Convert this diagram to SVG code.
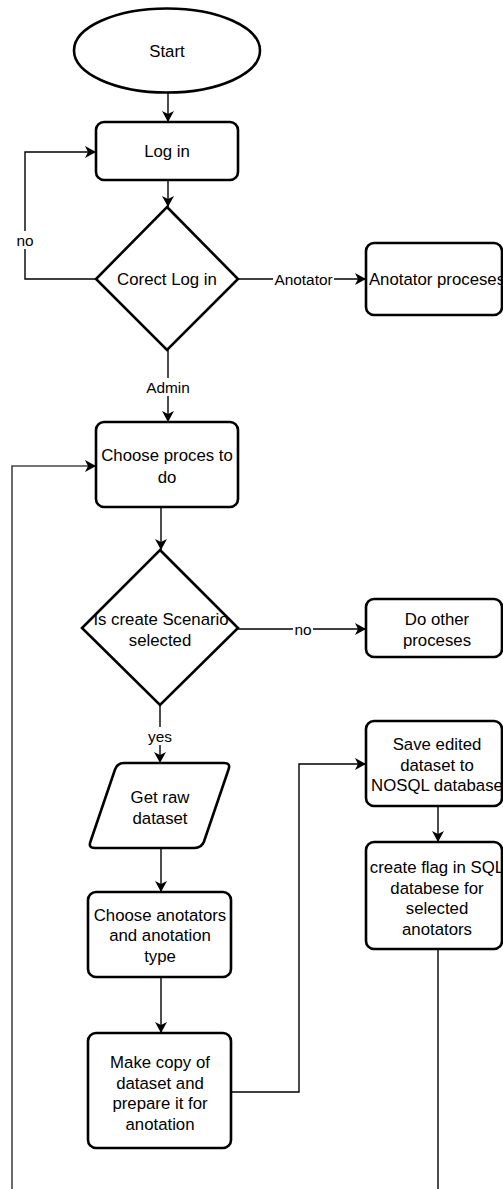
<svg xmlns="http://www.w3.org/2000/svg" width="503" height="1189" viewBox="0 0 503 1189">
  <style>
    .node { fill: #ffffff; stroke: #000000; stroke-width: 2.6; }
    .txt { font-family: "Liberation Sans", Arial, sans-serif; font-size: 16.8px; fill: #000000; text-anchor: middle; }
    .lbl { font-family: "Liberation Sans", Arial, sans-serif; font-size: 15.4px; fill: #000000; text-anchor: middle; }
    .edge { fill: none; stroke: #000000; stroke-width: 1.4; }
    .loop { fill: none; stroke: #474747; stroke-width: 1.6; }
    .lblbg { fill: #ffffff; }
  </style>
  <defs>
    <marker id="arrow" markerUnits="userSpaceOnUse" markerWidth="12" markerHeight="12" refX="11" refY="6" orient="auto">
      <path d="M0,0 L11,6 L0,12 L3,6 Z" fill="#000000"/>
    </marker>
  </defs>

  <rect width="503" height="1189" fill="#ffffff"/>

  <!-- connectors -->
  <g id="connectors">
    <path class="edge" d="M168,93 L168,122" marker-end="url(#arrow)"/>
    <path class="edge" d="M168,180 L168,207" marker-end="url(#arrow)"/>
    <path class="edge" d="M96,279 L25,279 L25,152 L96,152" marker-end="url(#arrow)"/>
    <rect class="lblbg" x="15" y="231" width="20" height="18"/>
    <text class="lbl" x="25" y="245.5">no</text>
    <path class="edge" d="M238,279 L366,279" marker-end="url(#arrow)"/>
    <rect class="lblbg" x="273" y="271" width="61" height="18"/>
    <text class="lbl" x="303.5" y="284.5">Anotator</text>
    <path class="edge" d="M168,350 L168,422" marker-end="url(#arrow)"/>
    <rect class="lblbg" x="146" y="378" width="44" height="18"/>
    <text class="lbl" x="168" y="392.5">Admin</text>
    <path class="edge" d="M161,507 L161,550" marker-end="url(#arrow)"/>
    <path class="edge" d="M238,629 L366,629" marker-end="url(#arrow)"/>
    <rect class="lblbg" x="293" y="620" width="20" height="18"/>
    <text class="lbl" x="303" y="634.5">no</text>
    <path class="edge" d="M160,705 L160,763" marker-end="url(#arrow)"/>
    <rect class="lblbg" x="146" y="727" width="28" height="18"/>
    <text class="lbl" x="160" y="741.5">yes</text>
    <path class="edge" d="M161,848 L161,892" marker-end="url(#arrow)"/>
    <path class="edge" d="M161,977 L161,1033" marker-end="url(#arrow)"/>
    <path class="edge" d="M231,1092 L299,1092 L299,764 L366,764" marker-end="url(#arrow)"/>
    <path class="edge" d="M438,806 L438,842" marker-end="url(#arrow)"/>
    <path class="edge" d="M438,949 L438,1189"/>
    <path class="loop" d="M12,1189 L12,466 L96,466" marker-end="url(#arrow)"/>
  </g>

  <!-- nodes -->
  <g id="start">
    <ellipse class="node" cx="167" cy="50.5" rx="93" ry="42"/>
    <text class="txt" x="167" y="56.5">Start</text>
  </g>
  <g id="log-in">
    <rect class="node" x="96" y="122" width="142" height="58" rx="8"/>
    <text class="txt" x="167" y="157">Log in</text>
  </g>
  <g id="correct-log-in">
    <polygon class="node" points="167,207 238,279 167,350 96,279"/>
    <text class="txt" x="167" y="285">Corect Log in</text>
  </g>
  <g id="anotator-proceses">
    <rect class="node" x="366" y="243" width="136" height="72" rx="8"/>
    <text class="txt" x="437" y="285">Anotator proceses</text>
  </g>
  <g id="choose-proces">
    <rect class="node" x="96" y="422" width="142" height="85" rx="8"/>
    <text class="txt" x="167" y="461">Choose proces to</text>
    <text class="txt" x="167" y="483">do</text>
  </g>
  <g id="create-scenario">
    <polygon class="node" points="160,550 238,628 160,705 82,628"/>
    <text class="txt" x="161" y="624.5">Is create Scenario</text>
    <text class="txt" x="160" y="645.5">selected</text>
  </g>
  <g id="do-other">
    <rect class="node" x="366" y="599" width="136" height="58" rx="8"/>
    <text class="txt" x="437" y="625">Do other</text>
    <text class="txt" x="437" y="645.5">proceses</text>
  </g>
  <g id="get-raw-dataset">
    <path class="node" d="M124,763 L224,763 Q231,763 228.5,769.5 L204,841.5 Q201.5,848 194.5,848 L95,848 Q88,848 90.5,841.5 L115,769.5 Q117.5,763 124,763 Z"/>
    <text class="txt" x="160" y="803">Get raw</text>
    <text class="txt" x="160" y="824">dataset</text>
  </g>
  <g id="choose-anotators">
    <rect class="node" x="88" y="892" width="143" height="85" rx="8"/>
    <text class="txt" x="160" y="920.5">Choose anotators</text>
    <text class="txt" x="160" y="941">and anotation</text>
    <text class="txt" x="160" y="961.5">type</text>
  </g>
  <g id="make-copy">
    <rect class="node" x="88" y="1033" width="143" height="115" rx="8"/>
    <text class="txt" x="160" y="1068">Make copy of</text>
    <text class="txt" x="160" y="1088.5">dataset and</text>
    <text class="txt" x="160" y="1109">prepare it for</text>
    <text class="txt" x="160" y="1129.5">anotation</text>
  </g>
  <g id="save-nosql">
    <rect class="node" x="366" y="721" width="136" height="85" rx="8"/>
    <text class="txt" x="437" y="750">Save edited</text>
    <text class="txt" x="437" y="770.5">dataset to</text>
    <text class="txt" x="437" y="791">NOSQL database</text>
  </g>
  <g id="create-flag">
    <rect class="node" x="366" y="842" width="136" height="107" rx="8"/>
    <text class="txt" x="437" y="873">create flag in SQL</text>
    <text class="txt" x="437" y="893.5">databese for</text>
    <text class="txt" x="437" y="914">selected</text>
    <text class="txt" x="437" y="934.5">anotators</text>
  </g>
</svg>
